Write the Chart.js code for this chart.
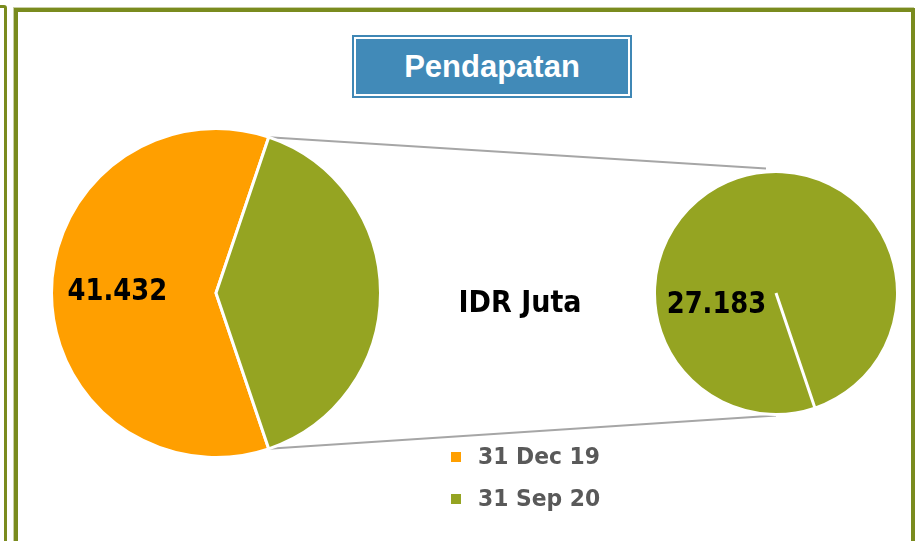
<!DOCTYPE html>
<html><head><meta charset="utf-8">
<script src="https://cdn.jsdelivr.net/npm/chart.js@4/dist/chart.umd.min.js"></script>
<style>
html,body{margin:0;padding:0;background:#fff;}
body{width:916px;height:541px;overflow:hidden;position:relative;font-family:'DejaVu Sans',sans-serif;}
#prevFrame{position:absolute;left:-100px;top:5px;width:101px;height:600px;border:3px solid #7A8B1E;border-radius:3px;}
#frame{position:absolute;left:14px;top:8px;width:893px;height:600px;border:4px solid #7A8B1E;box-shadow:-1px -1px 0 #c9cfa5;}
#overlay{position:absolute;left:0;top:0;z-index:1;}
#titleBox{position:absolute;left:352px;top:35px;width:272px;height:55px;border:2px solid #3F87B5;padding:2px;background:#fff;z-index:2;}
#titleInner{width:100%;height:100%;background:#418AB8;color:#fff;font-family:'Liberation Sans',Arial,sans-serif;font-weight:bold;font-size:31px;display:flex;align-items:center;justify-content:center;}
#leftWrap{position:absolute;left:50px;top:127px;width:332px;height:332px;z-index:3;}
#rightWrap{position:absolute;left:653px;top:170px;width:246px;height:246px;z-index:3;}
</style></head>
<body>
<div id="prevFrame"></div>
<div id="frame"></div>
<canvas id="overlay" width="916" height="541"></canvas>
<div id="titleBox"><div id="titleInner">Pendapatan</div></div>
<div id="leftWrap"><canvas id="leftPie"></canvas></div>
<div id="rightWrap"><canvas id="rightPie"></canvas></div>
<script>
// ---- data ----
const categories = ['31 Dec 19', '31 Sep 20'];
const values = [41432, 27183];          // IDR Juta
const secondaryValues = [27183];        // split-off part shown in second pie
const colors = ['#FF9F00', '#95A422'];
const unitLabel = 'IDR Juta';
const titleText = 'Pendapatan';

const fmt = v => v.toLocaleString('id-ID');
const total = values.reduce((a, b) => a + b, 0);
const rot = 90 + 180 * values[1] / total; // centre the split slice on 3 o'clock

function drawScaledText(ctx, txt, x, y, font, color, sx, align) {
  ctx.save();
  ctx.font = font;
  ctx.fillStyle = color;
  ctx.textBaseline = 'alphabetic';
  ctx.textAlign = 'left';
  const w = ctx.measureText(txt).width * sx;
  let x0 = x;
  if (align === 'center') x0 = x - w / 2;
  ctx.translate(x0, y);
  ctx.scale(sx, 1);
  ctx.fillText(txt, 0, 0);
  ctx.restore();
}

const valueLabelPlugin = {
  id: 'valueLabels',
  afterDatasetsDraw(chart, args, opts) {
    const ctx = chart.ctx;
    const meta = chart.getDatasetMeta(0);
    const el = meta.data[opts.index];
    const R = el.outerRadius;
    let x, y;
    if (opts.mode === 'mid') {
      const mid = (el.startAngle + el.endAngle) / 2;
      x = el.x + 0.6 * R * Math.cos(mid);
      y = el.y + 0.6 * R * Math.sin(mid) + 7;
    } else {
      x = el.x - 0.49 * R;
      y = el.y + 20;
    }
    const v = chart.data.datasets[0].data[opts.index];
    drawScaledText(ctx, fmt(v), x, y, 'bold 30px "DejaVu Sans"', '#000', 0.86, 'center');
  }
};

const baseOpts = {
  responsive: true,
  maintainAspectRatio: false,
  animation: false,
  events: [],
  layout: { padding: 0 },
  plugins: { legend: { display: false }, tooltip: { enabled: false } }
};

const leftChart = new Chart(document.getElementById('leftPie'), {
  type: 'pie',
  data: {
    labels: categories,
    datasets: [{ data: values, backgroundColor: colors, borderColor: '#fff', borderWidth: 3 }]
  },
  options: Object.assign({}, baseOpts, {
    rotation: rot,
    plugins: Object.assign({}, baseOpts.plugins, { valueLabels: { index: 0, mode: 'mid' } })
  }),
  plugins: [valueLabelPlugin]
});

const rightChart = new Chart(document.getElementById('rightPie'), {
  type: 'pie',
  data: {
    labels: [categories[1]],
    datasets: [{ data: secondaryValues, backgroundColor: [colors[1]], borderColor: '#fff', borderWidth: 3 }]
  },
  options: Object.assign({}, baseOpts, {
    rotation: rot,
    plugins: Object.assign({}, baseOpts.plugins, { valueLabels: { index: 0, mode: 'offset' } })
  }),
  plugins: [valueLabelPlugin]
});

// ---- overlay: connector lines, unit text, legend ----
function drawOverlay() {
  const cv = document.getElementById('overlay');
  const ctx = cv.getContext('2d');
  ctx.clearRect(0, 0, cv.width, cv.height);
  const lw = document.getElementById('leftWrap');
  const rw = document.getElementById('rightWrap');
  const lEl = leftChart.getDatasetMeta(0).data[1];
  const rEl = rightChart.getDatasetMeta(0).data[0];
  const lx = lw.offsetLeft + lEl.x, ly = lw.offsetTop + lEl.y, lR = lEl.outerRadius;
  const rx = rw.offsetLeft + rEl.x, ry = rw.offsetTop + rEl.y, rR = rEl.outerRadius;
  const p1 = [lx + lR * Math.cos(lEl.startAngle), ly + lR * Math.sin(lEl.startAngle)];
  const p2 = [lx + lR * Math.cos(lEl.endAngle), ly + lR * Math.sin(lEl.endAngle)];
  ctx.strokeStyle = '#A6A6A6';
  ctx.lineWidth = 2;
  ctx.beginPath();
  ctx.moveTo(p1[0], p1[1]); ctx.lineTo(rx - 10, ry - rR - 3);
  ctx.moveTo(p2[0], p2[1]); ctx.lineTo(rx, ry + rR + 1);
  ctx.stroke();

  drawScaledText(ctx, unitLabel, 520, 312, 'bold 30px "DejaVu Sans"', '#000', 0.9, 'center');

  categories.forEach((c, i) => {
    const y = 464 + i * 42;
    ctx.fillStyle = colors[i];
    ctx.fillRect(451, y - 12, 10, 10);
    drawScaledText(ctx, c, 478, y, 'bold 23px "DejaVu Sans"', '#595959', 0.95, 'left');
  });
}
drawOverlay();
</script>
</body></html>
